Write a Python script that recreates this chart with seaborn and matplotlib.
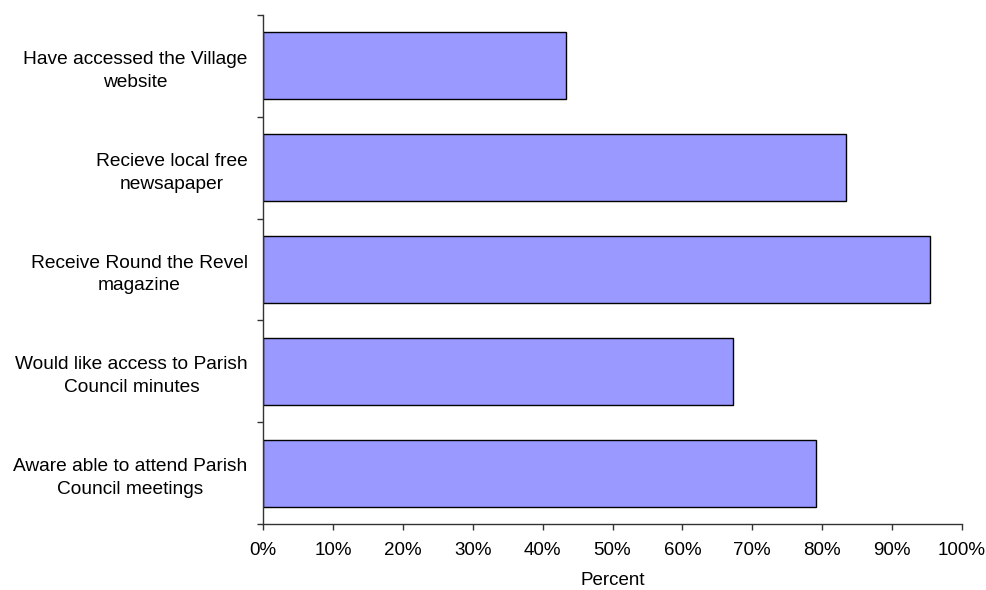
import matplotlib
matplotlib.use('Agg')
import matplotlib.pyplot as plt
import seaborn as sns
import pandas as pd
from matplotlib.ticker import FixedLocator, PercentFormatter

categories = ['Have accessed the Village\nwebsite',
              'Recieve local free\nnewsapaper',
              'Receive Round the Revel\nmagazine',
              'Would like access to Parish\nCouncil minutes',
              'Aware able to attend Parish\nCouncil meetings']
percent = [43.3, 83.4, 95.4, 67.2, 79.1]

df = pd.DataFrame({'item': categories, 'percent': percent})

sns.set_style('white')
plt.rcParams['font.family'] = ['Liberation Sans', 'DejaVu Sans']
plt.rcParams['text.color'] = 'black'
plt.rcParams['axes.labelcolor'] = 'black'
plt.rcParams['xtick.color'] = 'black'
plt.rcParams['ytick.color'] = 'black'

fig = plt.figure(figsize=(9.86, 5.9), dpi=100)
ax = fig.add_axes([263 / 986, 1 - 524 / 590, 699 / 986, 509 / 590])

sns.barplot(data=df, x='percent', y='item', orient='h', color='#9999FF',
            saturation=1, width=0.66, edgecolor='black', linewidth=1, ax=ax)

ax.set_xlim(0, 100)
ax.set_ylim(4.5, -0.5)
ax.xaxis.set_major_locator(FixedLocator(range(0, 101, 10)))
ax.xaxis.set_major_formatter(PercentFormatter(decimals=0))

# category labels at bar centres, ticks on the band edges
ax.yaxis.set_minor_locator(FixedLocator([i - 0.5 for i in range(6)]))
ax.tick_params(axis='y', which='major', length=0, pad=11, labelsize=13.8)
ax.tick_params(axis='y', which='minor', left=True, length=4, width=1, color='#333333', direction='out')
ax.tick_params(axis='x', which='major', bottom=True, length=4, width=1, color='#333333',
               direction='out', pad=9, labelsize=13.5)
for lbl in ax.get_yticklabels():
    lbl.set_multialignment('center')
    lbl.set_linespacing(1.45)

ax.set_ylabel('')
ax.set_xlabel('Percent', fontsize=13.5, labelpad=9)

for side in ['top', 'right']:
    ax.spines[side].set_visible(False)
for side in ['left', 'bottom']:
    ax.spines[side].set_color('#333333')
    ax.spines[side].set_linewidth(1)

fig.savefig('out.png', dpi=100)
